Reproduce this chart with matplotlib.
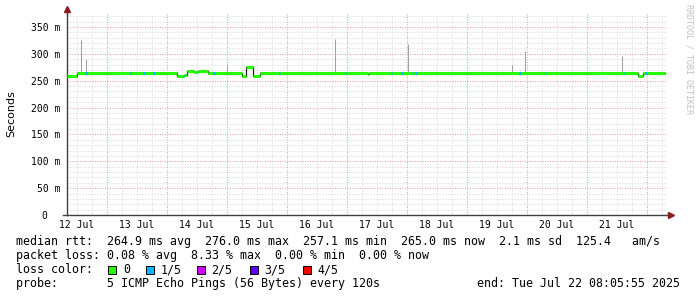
import matplotlib
matplotlib.use('Agg')
import matplotlib.pyplot as plt
import numpy as np
from matplotlib.patches import Rectangle

# ---------------- data (hours since 12 Jul 00:00, values in ms) ----------------
t_start = 8 + 5 / 60 + 55 / 3600          # 12 Jul 08:05:55
t_end = t_start + 240                      # 22 Jul 08:05:55

seg_start_h = [8.1, 12.1, 51.9, 54.9, 56.2, 58.9, 60.5, 64.5, 78.2, 79.8,
               82.6, 85.2, 128.5, 128.8, 236.4, 238.4]
seg_rtt_ms = [258, 265, 258, 261, 268, 266, 268, 265, 258, 276,
              258, 265, 262, 265, 258, 265]
last_h = 247.3

loss1_h = [15.7, 33.6, 38.9, 42.9, 54.6, 66.9, 93.0, 119.6, 138.0, 142.1,
           146.4, 147.7, 189.3, 199.6, 231.0, 239.7]
loss1_ms = [265, 265, 265, 265, 258, 265, 265, 265, 265, 265,
            265, 265, 265, 265, 265, 265]

spike_h = [13.8, 15.8, 72.2, 115.4, 144.4, 186.2, 191.4, 230.0]
spike_top_ms = [325, 291, 279, 327, 318, 279, 305, 296]

y_ticks = [0, 50, 100, 150, 200, 250, 300, 350]
y_labels = ["0  ", "50 m", "100 m", "150 m", "200 m", "250 m", "300 m", "350 m"]
day_labels = ["12 Jul", "13 Jul", "14 Jul", "15 Jul", "16 Jul",
              "17 Jul", "18 Jul", "19 Jul", "20 Jul", "21 Jul"]

loss_names = ["0", "1/5", "2/5", "3/5", "4/5"]
loss_colors = ["#26ff00", "#00b8ff", "#d400ff", "#5e00ff", "#ff0000"]

row1 = "median rtt:  264.9 ms avg  276.0 ms max  257.1 ms min  265.0 ms now  2.1 ms sd  125.4   am/s"
row2 = "packet loss: 0.08 % avg  8.33 % max  0.00 % min  0.00 % now"
row3 = "loss color:"
row4 = "probe:       5 ICMP Echo Pings (56 Bytes) every 120s"
end_text = "end: Tue Jul 22 08:05:55 2025"

# ---------------- figure ----------------
W, H = 697, 297
fig = plt.figure(figsize=(W / 100, H / 100), dpi=100)
fig.patch.set_facecolor('white')
ax = fig.add_axes([67 / W, (H - 215) / H, 600 / W, 201 / H])
ax.set_facecolor('white')
ax.set_xlim(t_start, t_end)
ax.set_ylim(0, 374)

MONO = 'DejaVu Sans Mono'
px = 0.72  # one pixel in points

# grid
minor_y = [v for v in range(10, 374, 10) if v % 50 != 0]
major_y = [v for v in range(50, 374, 50)]
minor_x = [h for h in range(6, 249, 6) if h % 24 != 0 and t_start < h < t_end]
major_x = [h for h in range(24, 249, 24) if t_start < h < t_end]
ax.hlines(minor_y, t_start, t_end, colors='#d4d4d4', linewidth=px,
          linestyles=[(0, (1, 2))], zorder=1)
ax.vlines(minor_x, 0, 374, colors='#d4d4d4', linewidth=px,
          linestyles=[(0, (1, 2))], zorder=1)
ax.hlines(major_y, t_start, t_end, colors='#f0a0a0', linewidth=px,
          linestyles=[(0, (1, 1.5))], zorder=1.5)
ax.vlines(major_x, 0, 374, colors='#f0a0a0', linewidth=px,
          linestyles=[(0, (1, 1.5))], zorder=1.5)

# smoke spikes
ax.vlines(spike_h, [265] * len(spike_h), spike_top_ms, colors='#a0a0a0',
          linewidth=px, zorder=2)

# median line: dark step outline, then loss-coloured segments
seg_end_h = seg_start_h[1:] + [last_h]
xs = seg_start_h + [last_h]
ys = seg_rtt_ms + [seg_rtt_ms[-1]]
ax.step(xs, ys, where='post', color='#202020', linewidth=0.9, zorder=3)
ax.hlines(seg_rtt_ms, seg_start_h, seg_end_h, colors=loss_colors[0],
          linewidth=2.2, zorder=4)
l1 = np.array(loss1_h)
ax.hlines(loss1_ms, l1 - 0.25, l1 + 0.25, colors=loss_colors[1],
          linewidth=2.2, zorder=5)

# axes
for s in ['top', 'right']:
    ax.spines[s].set_visible(False)
for s in ['left', 'bottom']:
    ax.spines[s].set_color('#404040')
    ax.spines[s].set_linewidth(1.0)
ax.plot([0, 0], [1, 1.025], transform=ax.transAxes, color='#404040',
        linewidth=1.0, clip_on=False, zorder=6)
ax.plot([-0.006, 0], [0, 0], transform=ax.transAxes, color='#404040',
        linewidth=1.0, clip_on=False, zorder=6)
ax.plot([1, 1.006], [0, 0], transform=ax.transAxes, color='#404040',
        linewidth=1.0, clip_on=False, zorder=6)
ax.plot([0], [1.025], marker='^', markersize=4.5, color='#8b1a1a',
        transform=ax.transAxes, clip_on=False, zorder=7)
ax.plot([1.007], [0], marker='>', markersize=4.5, color='#8b1a1a',
        transform=ax.transAxes, clip_on=False, zorder=7)

ax.set_yticks(y_ticks)
ax.set_yticklabels(y_labels, fontfamily=MONO, fontsize=7)
ax.set_xticks([12 + 24 * i for i in range(len(day_labels))])
ax.set_xticklabels(day_labels, fontfamily=MONO, fontsize=7)
ax.tick_params(axis='y', length=0, pad=5)
ax.tick_params(axis='x', length=0, pad=3.5)

# y label and watermark
fig.text(11 / W, 1 - 114 / H, "Seconds", rotation=90, ha='center',
         va='center', fontsize=8, family='DejaVu Sans')
fig.text(689 / W, 1 - 4 / H, "RRDTOOL / TOBI OETIKER", rotation=270,
         ha='center', va='top', fontsize=6, family=MONO, color='#c0c0c0')

# legend text
def ftext(x, y, s, **kw):
    fig.text(x / W, 1 - y / H, s, family=MONO, fontsize=8.4,
             va='baseline', **kw)

ftext(16, 245.5, row1)
ftext(16, 259.4, row2)
ftext(16, 273.3, row3)
ftext(16, 287.2, row4)
ftext(680, 287.2, end_text, ha='right')

box_x = [108.3, 145.7, 196.7, 250.0, 302.7]
for bx, name, col in zip(box_x, loss_names, loss_colors):
    fig.patches.append(Rectangle((bx / W, 1 - 274 / H), 8 / W, 8 / H,
                                 transform=fig.transFigure, facecolor=col,
                                 edgecolor='black', linewidth=0.7))
    ftext(bx + 14.5, 273.3, name)

fig.savefig('out.png', dpi=100, facecolor='white')
